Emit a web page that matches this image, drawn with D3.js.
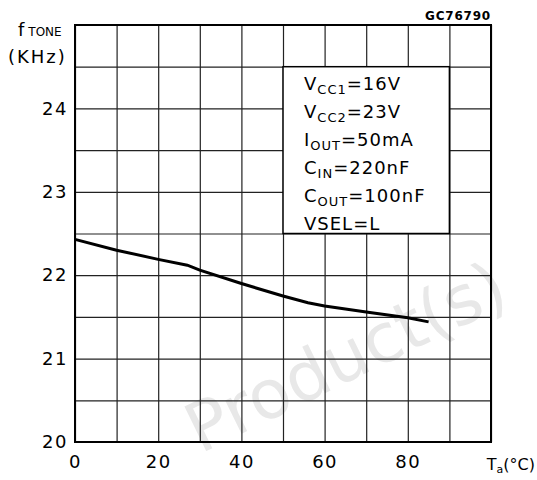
<!DOCTYPE html>
<html>
<head>
<meta charset="utf-8">
<script src="https://cdn.jsdelivr.net/npm/d3@7"></script>
<style>
  body { margin: 0; background: #fff; }
  text { font-family: "DejaVu Sans", sans-serif; fill: #000; }
</style>
</head>
<body>
<svg id="grafico"></svg>
<script>
// temperatura (°C) e frequencia (kHz)
var temperatura = [0, 10, 20, 27, 30, 40, 50, 56, 60, 70, 80, 85];
var frequencia  = [22.43, 22.30, 22.19, 22.12, 22.06, 21.90, 21.75, 21.67, 21.63, 21.56, 21.49, 21.44];

var ticksX = [0, 20, 40, 60, 80];
var ticksY = [20, 21, 22, 23, 24];

// condicoes de teste (texto, subscrito, valor)
var condNome  = ['V', 'V', 'I', 'C', 'C', 'VSEL'];
var condSub   = ['CC1', 'CC2', 'OUT', 'IN', 'OUT', ''];
var condValor = ['=16V', '=23V', '=50mA', '=220nF', '=100nF', '=L'];

var largura = 537, altura = 480;
var margem = { esquerda: 75, direita: 46, superior: 25, inferior: 38 };
var larguraPlotagem = largura - margem.esquerda - margem.direita;
var alturaPlotagem = altura - margem.superior - margem.inferior;

var svg = d3.select('#grafico').attr('width', largura).attr('height', altura);

svg.append('rect').attr('width', largura).attr('height', altura).attr('fill', '#fff');

// marca d'agua
svg.append('text')
   .attr('transform', 'translate(356,378) rotate(-26)')
   .attr('text-anchor', 'middle')
   .style('font-size', '68px')
   .style('fill', '#e8e8e8')
   .text('Product(s)');

var plotagem = svg.append('g')
                  .attr('transform', 'translate(' + margem.esquerda + ',' + margem.superior + ')');

var x = d3.scaleLinear().domain([0, 100]).range([0, larguraPlotagem]);
var y = d3.scaleLinear().domain([20, 25]).range([alturaPlotagem, 0]);

// grade
plotagem.append('g')
  .attr('transform', 'translate(0,' + alturaPlotagem + ')')
  .call(d3.axisBottom(x).tickValues(d3.range(0, 101, 10)).tickSize(-alturaPlotagem).tickFormat(''))
  .call(g => g.select('.domain').remove())
  .selectAll('line').attr('stroke', '#222').attr('stroke-width', 1.2);

plotagem.append('g')
  .call(d3.axisLeft(y).tickValues(d3.range(20, 25.01, 0.5)).tickSize(-larguraPlotagem).tickFormat(''))
  .call(g => g.select('.domain').remove())
  .selectAll('line').attr('stroke', '#222').attr('stroke-width', 1.2);

// moldura
plotagem.append('rect')
  .attr('width', larguraPlotagem).attr('height', alturaPlotagem)
  .attr('fill', 'none').attr('stroke', '#000').attr('stroke-width', 2);

// rotulos dos eixos
var eixoX = plotagem.append('g')
  .attr('transform', 'translate(0,' + alturaPlotagem + ')')
  .call(d3.axisBottom(x).tickValues(ticksX).tickSize(0).tickPadding(13).tickFormat(d3.format('d')));
eixoX.select('.domain').remove();
eixoX.selectAll('text').style('font-size', '18px').style('letter-spacing', '1.5px').attr('fill', '#000');

var eixoY = plotagem.append('g')
  .call(d3.axisLeft(y).tickValues(ticksY).tickSize(0).tickPadding(7).tickFormat(d3.format('d')));
eixoY.select('.domain').remove();
eixoY.selectAll('text').style('font-size', '18px').style('letter-spacing', '1.5px').attr('fill', '#000');

// caixa de condicoes
plotagem.append('rect')
  .attr('x', x(50)).attr('y', y(24.5))
  .attr('width', x(90) - x(50)).attr('height', y(22.5) - y(24.5))
  .attr('fill', '#fff').attr('stroke', '#000').attr('stroke-width', 1.5);

var cond = plotagem.selectAll('.cond')
  .data(condNome)
  .enter()
    .append('text')
    .classed('cond', true)
    .attr('x', x(50) + 21)
    .attr('y', (d, i) => y(24.5) + 23 + i * 28)
    .style('font-size', '18px')
    .style('letter-spacing', '1px');
cond.append('tspan').text(d => d);
cond.append('tspan').attr('dy', 4).style('font-size', '13px').text((d, i) => condSub[i]);
cond.append('tspan').attr('dy', (d, i) => condSub[i] ? -4 : 0).text((d, i) => condValor[i]);

// curva
var linha = d3.line()
  .x((d, i) => x(temperatura[i]))
  .y(d => y(d));

plotagem.append('path')
  .datum(frequencia)
  .attr('d', linha)
  .attr('fill', 'none')
  .attr('stroke', '#000')
  .attr('stroke-width', 3);

// titulos
var tituloY = svg.append('text').attr('x', 18).attr('y', 36).style('font-size', '18px');
tituloY.append('tspan').text('f');
tituloY.append('tspan').attr('dx', 4).style('font-size', '12px').text('TONE');
svg.append('text').attr('x', 8).attr('y', 63).style('font-size', '18px').style('letter-spacing', '2px').text('(KHz)');

var tituloX = svg.append('text').attr('x', 535).attr('y', 470).attr('text-anchor', 'end').style('font-size', '16px');
tituloX.append('tspan').text('T');
tituloX.append('tspan').attr('dy', 3).style('font-size', '11px').text('a');
tituloX.append('tspan').attr('dy', -3).text('(°C)');

svg.append('text').attr('x', 491).attr('y', 20).attr('text-anchor', 'end')
   .style('font-size', '12px').style('font-weight', 'bold').style('letter-spacing', '0.8px').text('GC76790');
</script>
</body>
</html>
